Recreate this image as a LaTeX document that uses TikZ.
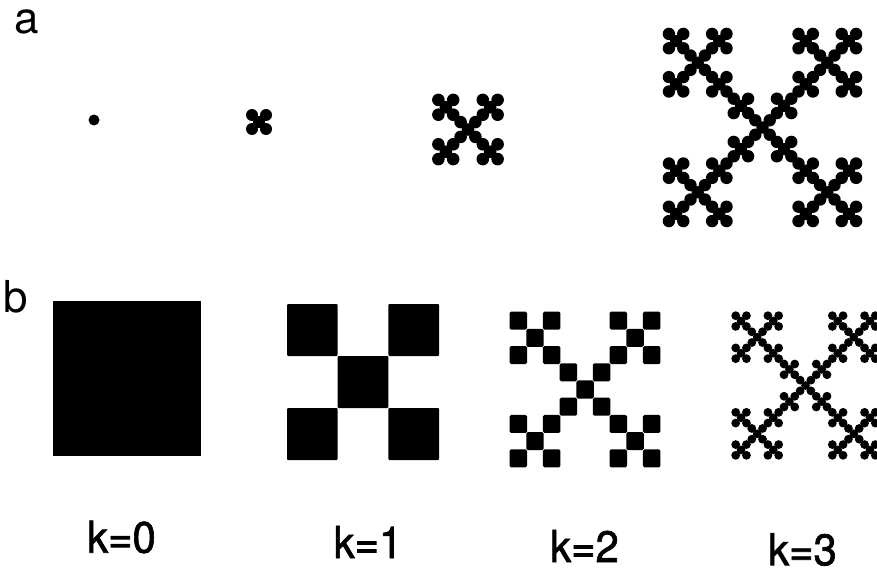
\documentclass[tikz,border=0pt]{standalone}
\usepackage{fontspec}
\setmainfont{TeX Gyre Heros}
\newfontfamily\kfont[FakeBold=1.6]{TeX Gyre Heros}
\begin{document}
\begin{tikzpicture}[x=1pt,y=-1pt,
  lab/.style={inner sep=0pt, font=\fontsize{44}{50}\selectfont},
  klab/.style={inner sep=0pt, xscale=0.95, font=\fontsize{44}{50}\kfont},
  blk/.style={fill=black}]
\useasboundingbox (0,0) rectangle (877,575);
\clip (0,0) rectangle (877,575);
% panel letters
\node[lab] (pa) at (27,21.5) {a};
\node[lab] (pb) at (16,297) {b};
% ---------- row a : growing clusters ----------
\fill[blk] (94,120) circle (5.5pt);
\foreach \i/\j in {0/0,2/0,1/1,0/2,2/2}
  \fill[blk] ({259+(\i-1)*7},{122+(\j-1)*7}) circle (6pt);
\foreach \i/\j in {0/0,2/0,1/1,0/2,2/2}
 \foreach \k/\l in {0/0,2/0,1/1,0/2,2/2}
  \fill[blk] ({468+(3*(\i-1)+\k-1)*7.4},{129.5+(3*(\j-1)+\l-1)*7.4}) circle (6.3pt);
\foreach \i/\j in {0/0,2/0,1/1,0/2,2/2}
 \foreach \k/\l in {0/0,2/0,1/1,0/2,2/2}
  \foreach \m/\n in {0/0,2/0,1/1,0/2,2/2}
   \fill[blk] ({762.5+(9*(\i-1)+3*(\k-1)+\m-1)*7.2},{127.5+(9*(\j-1)+3*(\l-1)+\n-1)*7.2}) circle (6.2pt);
% ---------- row b : fixed size ----------
\fill[blk] (53,301) rectangle (201,456);
\foreach \i/\j in {0/0,2/0,1/1,0/2,2/2}
  \fill[blk, rounded corners=1pt] ({287+\i*50.67},{304+\j*52}) rectangle ++(50.67,52);
\foreach \i/\j in {0/0,2/0,1/1,0/2,2/2}
 \foreach \k/\l in {0/0,2/0,1/1,0/2,2/2}
  \fill[blk, rounded corners=1.5pt] ({510+(3*\i+\k)*16.67-0.4},{312+(3*\j+\l)*17.22-0.4}) rectangle ++(17.47,18.02);
\foreach \i/\j in {0/0,2/0,1/1,0/2,2/2}
 \foreach \k/\l in {0/0,2/0,1/1,0/2,2/2}
  \foreach \m/\n in {0/0,2/0,1/1,0/2,2/2}
   \fill[blk] ({733+(9*\i+3*\k+\m+0.5)*5.37},{313+(9*\j+3*\l+\n+0.5)*5.37}) circle (4.4pt);
% labels
\node[klab] (k0) at (121.5,537) {k=0};
\node[klab] (k1) at (368,542) {k=1};
\node[klab] (k2) at (584.5,546) {k=2};
\node[klab] (k3) at (802.5,549.5) {k=3};
\end{tikzpicture}
\end{document}
